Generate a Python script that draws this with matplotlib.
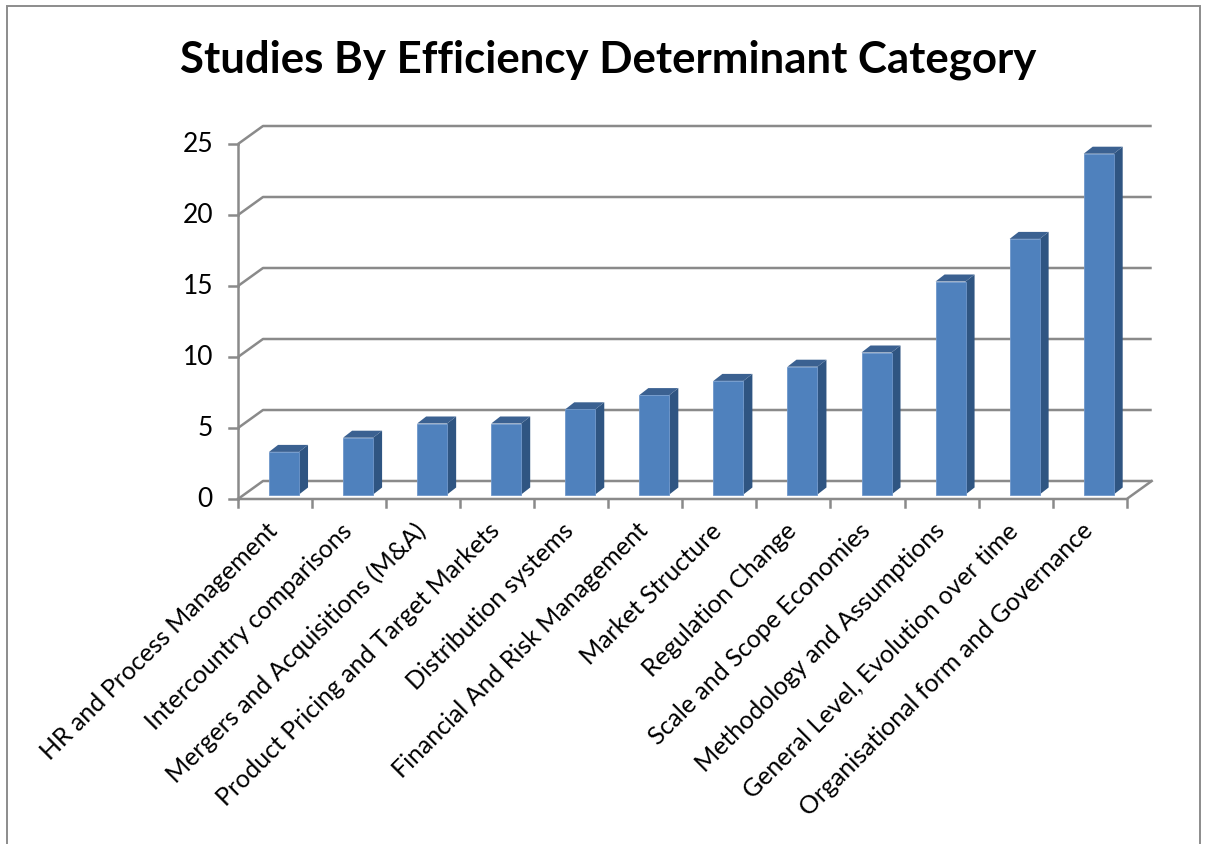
import matplotlib
matplotlib.use("Agg")
import matplotlib.pyplot as plt
from matplotlib.patches import Polygon, Rectangle

plt.rcParams['font.family'] = ['Lato', 'DejaVu Sans']

# data
categories = [
    'HR and Process Management',
    'Intercountry comparisons',
    'Mergers and Acquisitions (M&A)',
    'Product Pricing and Target Markets',
    'Distribution systems',
    'Financial And Risk Management',
    'Market Structure',
    'Regulation Change',
    'Scale and Scope Economies',
    'Methodology and Assumptions',
    'General Level, Evolution over time',
    'Organisational form and Governance',
]
studies = [3, 4, 5, 5, 6, 7, 8, 9, 10, 15, 18, 24]
y_ticks = [0, 5, 10, 15, 20, 25]
title = 'Studies By Efficiency Determinant Category'

# pixel scale of the plot area
W, H = 1205, 845
PX_X = 74.06   # px per category
PX_Y = 14.2    # px per study
X0, Y0 = 238, 500   # front origin in px (image coords)

# oblique offsets (data units)
wall_dx, wall_dy = 25 / PX_X, 18 / PX_Y
bar_fx, bar_fy = 9 / PX_X, 4.5 / PX_Y     # front face shift into depth
bar_sx, bar_sy = 9 / PX_X, 7 / PX_Y       # bar depth
bar_w = 30 / PX_X

grid_col = '#8a8a8a'
front_col = '#4f81bd'
top_col = '#3b6191'
side_col = '#2f5582'

fig = plt.figure(figsize=(W / 100, H / 100), dpi=100)

# outer chart frame
fig.patches.append(Rectangle((7 / W, -0.01), 1193 / W, 1 - 7 / H + 0.01,
                             transform=fig.transFigure, fill=False,
                             edgecolor='#8c8c8c', lw=1.4))

left_px, right_px, top_px, bot_px = 120, 1190, 90, 840
ax = fig.add_axes([left_px / W, (H - bot_px) / H,
                   (right_px - left_px) / W, (bot_px - top_px) / H])
ax.set_xlim((left_px - X0) / PX_X, (right_px - X0) / PX_X)
ax.set_ylim((Y0 - bot_px) / PX_Y, (Y0 - top_px) / PX_Y)
ax.axis('off')

n = len(categories)

# back wall gridlines and floor
for v in y_ticks:
    ax.plot([0, wall_dx, n + wall_dx], [v, v + wall_dy, v + wall_dy],
            color=grid_col, lw=1.8, solid_capstyle='butt', zorder=1)
    ax.plot([-9 / PX_X, 0], [v, v], color=grid_col, lw=1.8, zorder=1)
ax.plot([0, n, n + wall_dx], [0, 0, wall_dy], color=grid_col, lw=1.8, zorder=1)
ax.plot([0, 0], [0, y_ticks[-1]], color=grid_col, lw=1.8, zorder=1)
for i in range(n + 1):
    ax.plot([i, i], [0, -8 / PX_Y], color=grid_col, lw=1.8, zorder=1)

# y tick labels
for v in y_ticks:
    ax.text(-25 / PX_X, v, str(v), ha='right', va='center', fontsize=19)

# 3d columns
for i, val in enumerate(studies):
    x0 = i + 0.5 - bar_w / 2 + bar_fx
    x1 = x0 + bar_w
    yb, yt = bar_fy, val + bar_fy
    ax.add_patch(Polygon([(x1, yb), (x1 + bar_sx, yb + bar_sy),
                          (x1 + bar_sx, yt + bar_sy), (x1, yt)],
                         closed=True, facecolor=side_col, edgecolor='none', zorder=3))
    ax.add_patch(Polygon([(x0, yt), (x1, yt), (x1 + bar_sx, yt + bar_sy),
                          (x0 + bar_sx, yt + bar_sy)],
                         closed=True, facecolor=top_col, edgecolor='none', zorder=3))
    ax.bar(x0, val, width=bar_w, bottom=bar_fy, align='edge', color=front_col,
           edgecolor='#6f97cb', linewidth=0.6, zorder=4)

# category labels
for i, name in enumerate(categories):
    ax.text(i + 0.5 - 1 / PX_X, -27 / PX_Y, name, rotation=45,
            rotation_mode='anchor', ha='right', va='center', fontsize=18)

fig.text(608 / W, 1 - 60 / H, title, ha='center', va='center',
         fontsize=31.5, fontweight='bold')

fig.savefig('out.png', dpi=100)
